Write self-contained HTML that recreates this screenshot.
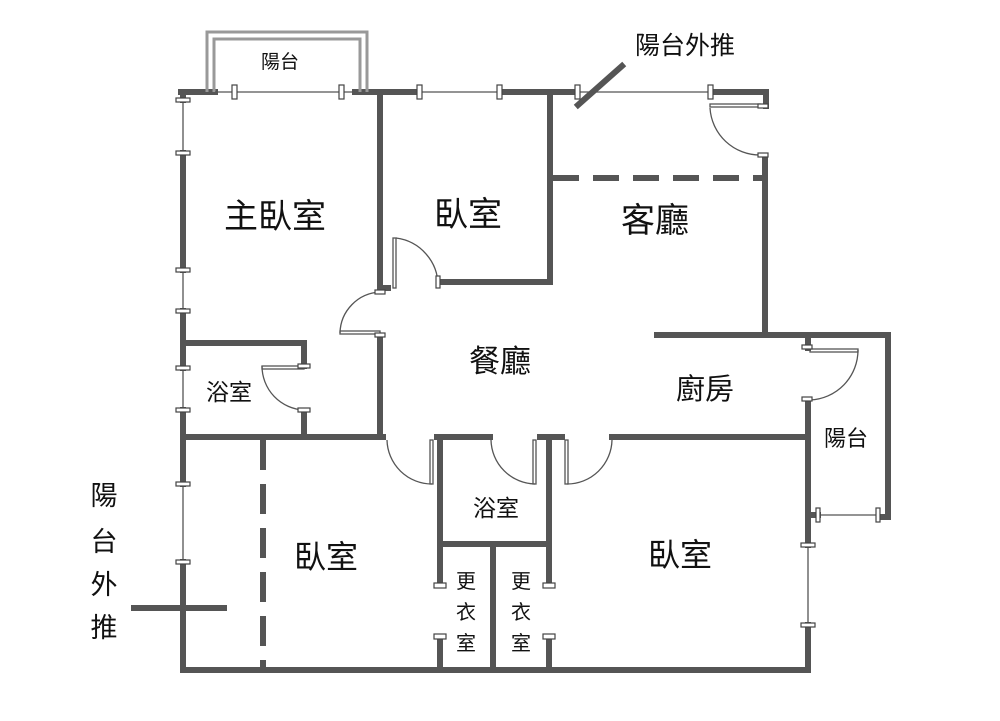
<!DOCTYPE html>
<html><head><meta charset="utf-8"><style>
html,body{margin:0;padding:0;background:#fff;}
svg{display:block}
text{font-family:"Liberation Sans","Noto Sans CJK TC",sans-serif;fill:#111;}
</style></head><body>
<svg width="1000" height="721" viewBox="0 0 1000 721" xmlns="http://www.w3.org/2000/svg">
<g stroke="#555" stroke-width="6" fill="none" stroke-linecap="square">
<line x1="181" y1="92" x2="215" y2="92"/>
<line x1="355" y1="92" x2="415" y2="92"/>
<line x1="500" y1="92" x2="575" y2="92"/>
<line x1="712" y1="92" x2="766" y2="92"/>
<line x1="766" y1="92" x2="766" y2="106"/>
<line x1="765" y1="158" x2="765" y2="335"/>
<line x1="183" y1="92" x2="183" y2="100"/>
<line x1="183" y1="153" x2="183" y2="270"/>
<line x1="183" y1="311" x2="183" y2="368"/>
<line x1="183" y1="410" x2="183" y2="484"/>
<line x1="183" y1="562" x2="183" y2="670"/>
<line x1="183" y1="670" x2="808" y2="670"/>
<line x1="380" y1="95" x2="380" y2="288"/>
<line x1="380" y1="288" x2="388" y2="288"/>
<line x1="440" y1="282" x2="550" y2="282"/>
<line x1="550" y1="95" x2="550" y2="282"/>
<line x1="380" y1="338" x2="380" y2="437"/>
<line x1="183" y1="343" x2="304" y2="343"/>
<line x1="304" y1="343" x2="304" y2="366"/>
<line x1="304" y1="412" x2="304" y2="437"/>
<line x1="183" y1="437" x2="383" y2="437"/>
<line x1="437" y1="437" x2="490" y2="437"/>
<line x1="440" y1="437" x2="440" y2="585"/>
<line x1="440" y1="637" x2="440" y2="668"/>
<line x1="540" y1="437" x2="562" y2="437"/>
<line x1="549" y1="437" x2="549" y2="585"/>
<line x1="549" y1="637" x2="549" y2="668"/>
<line x1="440" y1="544" x2="549" y2="544"/>
<line x1="493" y1="544" x2="493" y2="670"/>
<line x1="612" y1="437" x2="808" y2="437"/>
<line x1="657" y1="335" x2="888" y2="335"/>
<line x1="888" y1="335" x2="888" y2="517"/>
<line x1="880" y1="517" x2="888" y2="517"/>
<line x1="808" y1="335" x2="808" y2="348"/>
<line x1="808" y1="400" x2="808" y2="545"/>
<line x1="808" y1="515" x2="818" y2="515"/>
<line x1="808" y1="625" x2="808" y2="670"/>
<line x1="134" y1="608" x2="224" y2="608"/>
<line x1="578" y1="105" x2="622" y2="66"/>
</g>
<line x1="263" y1="440" x2="263" y2="668" stroke="#555" stroke-width="6" stroke-dasharray="30,14"/>
<line x1="553" y1="178" x2="765" y2="178" stroke="#555" stroke-width="6" stroke-dasharray="26,14"/>
<g stroke="#999" stroke-width="3" fill="none">
<polyline points="207,92 207,32 367,32 367,92"/>
<polyline points="214,92 214,39 360,39 360,92"/>
</g>
<g stroke="#555" stroke-width="1.3" fill="none">
<line x1="215" y1="92" x2="355" y2="92"/>
<line x1="415" y1="92" x2="500" y2="92"/>
<line x1="575" y1="92" x2="712" y2="92"/>
<line x1="183" y1="100" x2="183" y2="153"/>
<line x1="183" y1="270" x2="183" y2="311"/>
<line x1="183" y1="368" x2="183" y2="410"/>
<line x1="183" y1="484" x2="183" y2="562"/>
<line x1="808" y1="545" x2="808" y2="625"/>
<line x1="818" y1="515" x2="880" y2="515"/>
<path d="M710,108 A50,50 0 0 0 760,155"/>
<rect x="710" y="104" width="50" height="3"/>
<path d="M396,238 A48,48 0 0 1 438,286"/>
<rect x="393" y="238" width="3" height="50" />
<path d="M380,292 A42,42 0 0 0 340,333"/>
<rect x="340" y="331" width="40" height="3"/>
<path d="M262,366 A44,44 0 0 0 304,410"/>
<rect x="262" y="366" width="42" height="3"/>
<path d="M387,440 A45,45 0 0 0 432,484"/>
<rect x="430" y="440" width="3" height="44"/>
<path d="M491,440 A45,45 0 0 0 535,484"/>
<rect x="533" y="440" width="3" height="44"/>
<path d="M612,440 A45,45 0 0 1 567,484"/>
<rect x="565" y="440" width="3" height="44"/>
<path d="M858,350 A50,50 0 0 1 810,400"/>
<rect x="810" y="349" width="48" height="3"/>
</g>
<g fill="#fff" stroke="#444" stroke-width="1.2">
<rect x="232" y="85" width="5" height="14"/><rect x="339" y="85" width="5" height="14"/>
<rect x="417" y="85" width="5" height="14"/><rect x="497" y="85" width="5" height="14"/>
<rect x="575" y="85" width="5" height="14"/><rect x="708" y="85" width="5" height="14"/>
<rect x="176" y="98" width="14" height="4"/><rect x="176" y="151" width="14" height="4"/>
<rect x="176" y="268" width="14" height="4"/><rect x="176" y="309" width="14" height="4"/>
<rect x="176" y="366" width="14" height="4"/><rect x="176" y="408" width="14" height="4"/>
<rect x="176" y="482" width="14" height="4"/><rect x="176" y="560" width="14" height="4"/>
<rect x="758" y="104" width="10" height="4"/><rect x="758" y="153" width="10" height="4"/>
<rect x="375" y="290" width="10" height="4"/><rect x="375" y="333" width="10" height="4"/>
<rect x="436" y="276" width="4" height="12"/>
<rect x="298" y="364" width="12" height="4"/><rect x="298" y="408" width="12" height="4"/>
<rect x="802" y="345" width="10" height="4"/><rect x="802" y="397" width="10" height="4"/>
<rect x="801" y="543" width="14" height="4"/><rect x="801" y="623" width="14" height="4"/>
<rect x="816" y="508" width="4" height="14"/><rect x="876" y="508" width="4" height="14"/>
<rect x="434" y="583" width="12" height="5"/><rect x="434" y="634" width="12" height="5"/>
<rect x="543" y="583" width="12" height="5"/><rect x="543" y="634" width="12" height="5"/>
</g>
<text x="280" y="68" font-size="19" text-anchor="middle">陽台</text>
<text x="685" y="54" font-size="25" text-anchor="middle">陽台外推</text>
<text x="275" y="228" font-size="34" text-anchor="middle">主臥室</text>
<text x="468" y="226" font-size="34" text-anchor="middle">臥室</text>
<text x="655" y="232" font-size="34" text-anchor="middle">客廳</text>
<text x="500" y="372" font-size="31" text-anchor="middle">餐廳</text>
<text x="705" y="399" font-size="29" text-anchor="middle">廚房</text>
<text x="229" y="400" font-size="23" text-anchor="middle">浴室</text>
<text x="846" y="446" font-size="22" text-anchor="middle">陽台</text>
<text x="496" y="516" font-size="23" text-anchor="middle">浴室</text>
<text x="326" y="568" font-size="32" text-anchor="middle">臥室</text>
<text x="680" y="566" font-size="32" text-anchor="middle">臥室</text>
<g font-size="20" text-anchor="middle">
<text x="466" y="588">更</text><text x="466" y="619">衣</text><text x="466" y="650">室</text>
<text x="521" y="588">更</text><text x="521" y="619">衣</text><text x="521" y="650">室</text>
</g>
<g font-size="27" text-anchor="middle">
<text x="104" y="505">陽</text><text x="104" y="551">台</text><text x="104" y="594">外</text><text x="104" y="637">推</text>
</g>
</svg>
</body></html>
